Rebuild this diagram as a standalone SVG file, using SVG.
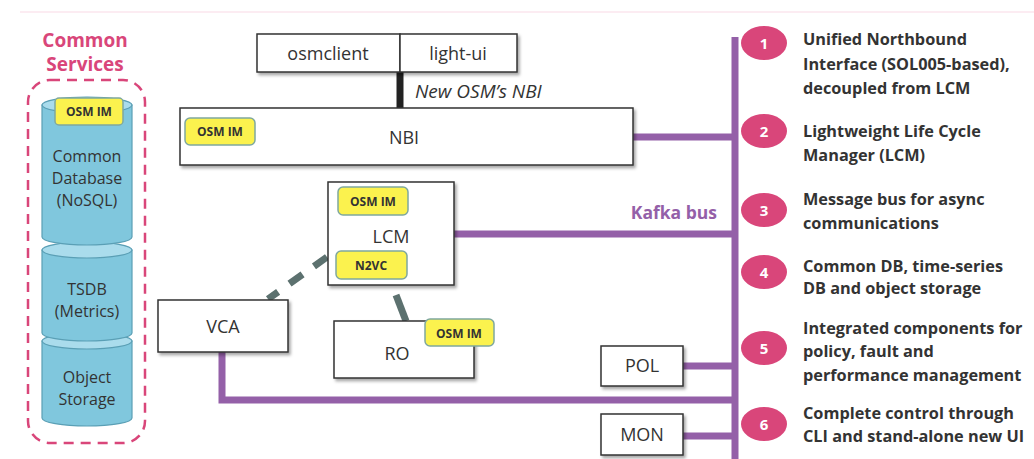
<svg xmlns="http://www.w3.org/2000/svg" width="1034" height="459" viewBox="0 0 1034 459">
<defs>
<filter id="sh" x="-10%" y="-10%" width="130%" height="140%">
<feDropShadow dx="2" dy="2.5" stdDeviation="1.5" flood-color="#000" flood-opacity="0.35"/>
</filter>
<style>
.box{fill:#fff;stroke:#333;stroke-width:1.5;filter:url(#sh)}
.lbl{font-family:"Open Sans","Liberation Sans",sans-serif;font-size:18px;fill:#333;text-anchor:middle}
.badge{fill:#fbf24e;stroke:#7fa89e;stroke-width:1.5}
.btxt{font-family:"Open Sans","Liberation Sans",sans-serif;font-size:12px;font-weight:bold;fill:#333;text-anchor:middle}
.bus{stroke:#9460a8;stroke-width:7;fill:none}
.num{fill:#d9467a}
.ntxt{font-family:"Open Sans","Liberation Sans",sans-serif;font-size:15px;font-weight:bold;fill:#fff;text-anchor:middle}
.desc{font-family:"Open Sans","Liberation Sans",sans-serif;font-size:16.3px;font-weight:bold;fill:#333}
.cyl{fill:#80c7dd;stroke:#5a9fb5;stroke-width:1.2}
.cyltop{fill:#aadcec;stroke:#5a9fb5;stroke-width:1.2}
.ctxt{font-family:"Open Sans","Liberation Sans",sans-serif;font-size:16px;fill:#333;text-anchor:middle}
.dash{stroke:#5c716f;stroke-width:7;fill:none}
.head{font-family:"Open Sans","Liberation Sans",sans-serif;font-size:19px;font-weight:bold;fill:#d9467a;text-anchor:middle}
</style>
</defs>
<line x1="20" y1="12" x2="1034" y2="12" stroke="#fbe6ee" stroke-width="1.5"/>

<g id="common-services">
<text class="head" x="85" y="47">Common</text>
<text class="head" x="85" y="71">Services</text>
<rect x="28" y="80" width="117" height="363" rx="22" fill="none" stroke="#d9467a" stroke-width="2.5" stroke-dasharray="10 7"/>
</g>

<g id="object-storage">
<path class="cyl" d="M42 341 V418 A45 8 0 0 0 132 418 V341 Z"/>
<ellipse class="cyltop" cx="87" cy="341" rx="45" ry="8"/>
<text class="ctxt" x="87" y="383">Object</text>
<text class="ctxt" x="87" y="405">Storage</text>
</g>
<g id="tsdb">
<path class="cyl" d="M42 250 V333 A45 8 0 0 0 132 333 V250 Z"/>
<ellipse class="cyltop" cx="87" cy="250" rx="45" ry="8"/>
<text class="ctxt" x="87" y="295">TSDB</text>
<text class="ctxt" x="87" y="317">(Metrics)</text>
</g>
<g id="common-db">
<path class="cyl" d="M42 105 V237 A45 8 0 0 0 132 237 V105 Z"/>
<ellipse class="cyltop" cx="87" cy="105" rx="45" ry="8"/>
<rect class="badge" x="55" y="98" width="68" height="27" rx="4"/>
<text class="btxt" x="89" y="116">OSM IM</text>
<text class="ctxt" x="87" y="162">Common</text>
<text class="ctxt" x="87" y="184">Database</text>
<text class="ctxt" x="87" y="206">(NoSQL)</text>
</g>

<g id="connectors">
<line x1="400" y1="72" x2="400" y2="108" stroke="#222" stroke-width="7"/>
<text x="415" y="98" font-family="Open Sans, Liberation Sans, sans-serif" font-size="19" font-style="italic" fill="#333">New OSM’s NBI</text>
<line class="bus" x1="735" y1="37" x2="735" y2="459"/>
<line class="bus" x1="633" y1="137" x2="735" y2="137"/>
<line class="bus" x1="454" y1="234" x2="735" y2="234"/>
<polyline class="bus" points="222,352 222,400 735,400"/>
<line class="bus" x1="683" y1="366" x2="735" y2="366"/>
<line class="bus" x1="683" y1="436" x2="735" y2="436"/>
<line class="dash" x1="327" y1="257" x2="268" y2="299" stroke-dasharray="16 14"/>
<line class="dash" x1="396" y1="295" x2="406" y2="321"/>
<text x="717" y="219" font-family="Open Sans, Liberation Sans, sans-serif" font-size="17.5" font-weight="bold" fill="#9460a8" text-anchor="end">Kafka bus</text>
</g>

<g id="osmclient">
<rect class="box" x="257" y="34" width="143" height="38"/>
<text class="lbl" x="328" y="60">osmclient</text>
</g>
<g id="light-ui">
<rect class="box" x="400" y="34" width="117" height="38"/>
<text class="lbl" x="458" y="60">light-ui</text>
</g>
<g id="nbi">
<rect class="box" x="180" y="108" width="453" height="57"/>
<rect class="badge" x="185" y="118" width="70" height="27" rx="5"/>
<text class="btxt" x="220" y="136">OSM IM</text>
<text class="lbl" x="404" y="144">NBI</text>
</g>
<g id="lcm">
<rect class="box" x="328" y="182" width="126" height="103"/>
<rect class="badge" x="338" y="187" width="70" height="28" rx="5"/>
<text class="btxt" x="373" y="206">OSM IM</text>
<text class="lbl" x="391" y="243">LCM</text>
<rect class="badge" x="336" y="251" width="71" height="28" rx="5"/>
<text class="btxt" x="371" y="270">N2VC</text>
</g>
<g id="vca">
<rect class="box" x="158" y="300" width="130" height="52"/>
<text class="lbl" x="223" y="333">VCA</text>
</g>
<g id="ro">
<rect class="box" x="334" y="321" width="140" height="57"/>
<text class="lbl" x="397" y="360">RO</text>
<rect class="badge" x="425" y="319" width="69" height="27" rx="5"/>
<text class="btxt" x="459" y="338">OSM IM</text>
</g>
<g id="pol">
<rect class="box" x="601" y="346" width="82" height="40"/>
<text class="lbl" x="642" y="372">POL</text>
</g>
<g id="mon">
<rect class="box" x="601" y="414" width="82" height="41"/>
<text class="lbl" x="642" y="441">MON</text>
</g>

<g id="item1">
<ellipse class="num" cx="764" cy="43" rx="23" ry="17"/>
<text class="ntxt" x="764" y="49">1</text>
<text class="desc" x="803" y="45">Unified Northbound</text>
<text class="desc" x="803" y="70">Interface (SOL005-based),</text>
<text class="desc" x="803" y="94">decoupled from LCM</text>
</g>
<g id="item2">
<ellipse class="num" cx="764" cy="131" rx="23" ry="17"/>
<text class="ntxt" x="764" y="137">2</text>
<text class="desc" x="803" y="137">Lightweight Life Cycle</text>
<text class="desc" x="803" y="161">Manager (LCM)</text>
</g>
<g id="item3">
<ellipse class="num" cx="764" cy="210" rx="23" ry="17"/>
<text class="ntxt" x="764" y="216">3</text>
<text class="desc" x="803" y="205">Message bus for async</text>
<text class="desc" x="803" y="229">communications</text>
</g>
<g id="item4">
<ellipse class="num" cx="764" cy="272" rx="23" ry="17"/>
<text class="ntxt" x="764" y="278">4</text>
<text class="desc" x="803" y="272">Common DB, time-series</text>
<text class="desc" x="803" y="294">DB and object storage</text>
</g>
<g id="item5">
<ellipse class="num" cx="764" cy="348" rx="23" ry="17"/>
<text class="ntxt" x="764" y="354">5</text>
<text class="desc" x="803" y="334">Integrated components for</text>
<text class="desc" x="803" y="357">policy, fault and</text>
<text class="desc" x="803" y="381">performance management</text>
</g>
<g id="item6">
<ellipse class="num" cx="764" cy="424" rx="23" ry="17"/>
<text class="ntxt" x="764" y="430">6</text>
<text class="desc" x="803" y="419">Complete control through</text>
<text class="desc" x="803" y="442">CLI and stand-alone new UI</text>
</g>
</svg>
